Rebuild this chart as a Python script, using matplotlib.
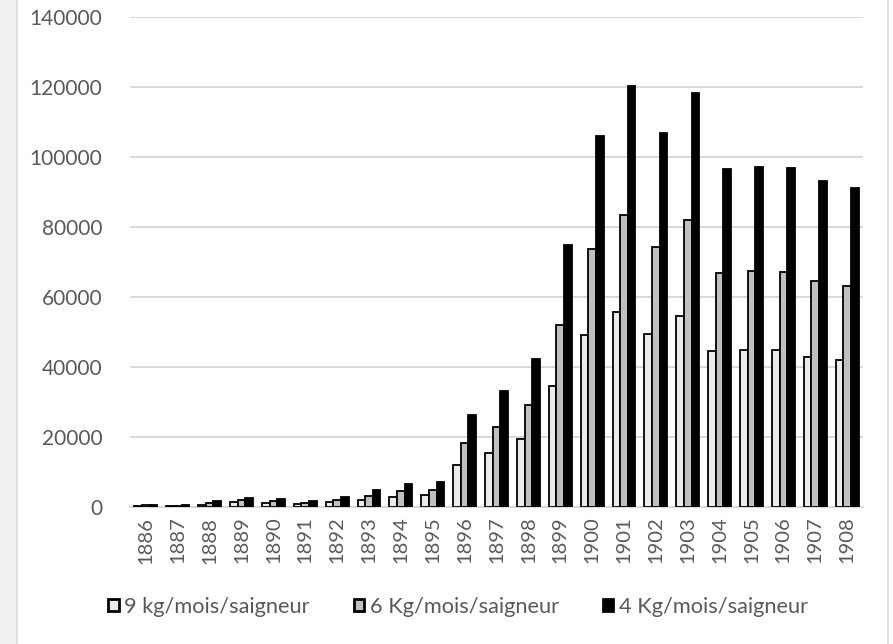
import matplotlib
matplotlib.use("Agg")
import matplotlib.pyplot as plt
from matplotlib.patches import Rectangle, Patch
from matplotlib.lines import Line2D
import numpy as np

plt.rcParams['font.family'] = ['Lato', 'DejaVu Sans']

years = [str(y) for y in range(1886, 1909)]
series_names = ["9 kg/mois/saigneur", "6 Kg/mois/saigneur", "4 Kg/mois/saigneur"]
kg9 = [300, 250, 700, 1400, 1100, 800, 1400, 2100, 3000, 3300, 12000, 15400,
       19500, 34700, 49000, 55700, 49400, 54600, 44700, 44900, 44800, 42900, 42100]
kg6 = [450, 380, 1100, 2000, 1700, 1100, 2100, 3200, 4600, 5000, 18200, 23000,
       29200, 51900, 73700, 83500, 74200, 82000, 66900, 67400, 67100, 64600, 63200]
kg4 = [650, 550, 1600, 2700, 2400, 1600, 3000, 4800, 6700, 7200, 26300, 33200,
       42300, 74900, 106100, 120300, 106800, 118200, 96600, 97100, 96800, 93000, 91100]
yticks = [0, 20000, 40000, 60000, 80000, 100000, 120000, 140000]

fills = ["#ebebeb", "#c0c0c0", "#000000"]
text_color = "#595959"
grid_color = "#d9d9d9"

W, H = 893, 644
fig = plt.figure(figsize=(W / 100, H / 100), dpi=100)
fig.patch.set_facecolor("white")

# left grey margin and frame lines
fig.add_artist(Rectangle((0, 0), 17 / W, 1, transform=fig.transFigure,
                         facecolor="#f0f0f0", edgecolor="none", zorder=0))
fig.add_artist(Line2D([17 / W, 17 / W], [0, 1], transform=fig.transFigure,
                      color=grid_color, lw=1.2))
fig.add_artist(Line2D([888 / W, 888 / W], [0, 1], transform=fig.transFigure,
                      color=grid_color, lw=1.2))

ax = fig.add_axes([130 / W, 1 - 507 / H, (863 - 130) / W, (507 - 17) / H])
x = np.arange(len(years))
bw = 0.24
for i, (vals, fc) in enumerate(zip([kg9, kg6, kg4], fills)):
    ax.bar(x + (i - 1) * bw, vals, width=bw, color=fc, edgecolor="black",
           linewidth=1.3, zorder=3, label=series_names[i])

ax.set_xlim(-0.5, len(years) - 0.5)
ax.set_ylim(0, 140000)
ax.set_yticks(yticks)
ax.set_yticklabels([str(v) for v in yticks])
ax.set_xticks(x)
ax.set_xticklabels(years, rotation=90)
ax.yaxis.grid(True, color=grid_color, linewidth=1.4, zorder=0)
ax.set_axisbelow(True)
for s in ["top", "right", "left"]:
    ax.spines[s].set_visible(False)
ax.spines["bottom"].set_color(grid_color)
ax.spines["bottom"].set_linewidth(1.4)
ax.tick_params(axis="both", length=0, labelsize=15, colors=text_color)
ax.tick_params(axis="x", labelsize=14.5, pad=7)
ax.tick_params(axis="y", pad=20)

handles = [Patch(facecolor=fc, edgecolor="black", linewidth=2.0) for fc in fills]
leg = fig.legend(handles, series_names, loc="center", bbox_to_anchor=(458 / W, 1 - 607 / H),
                 ncol=3, frameon=False, fontsize=15.7, handlelength=0.5, handleheight=0.5,
                 handletextpad=0.25, columnspacing=2.0)
for t in leg.get_texts():
    t.set_color(text_color)

fig.savefig("out.png", dpi=100)
